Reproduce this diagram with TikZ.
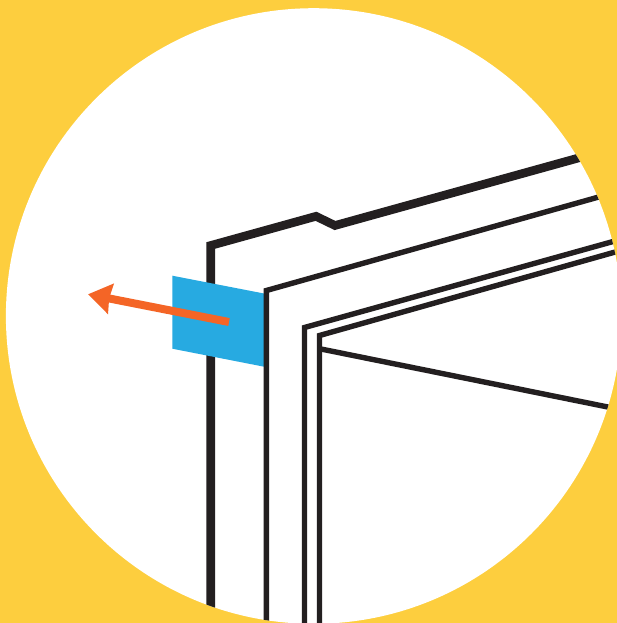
\documentclass[tikz,border=0pt]{standalone}
\usepackage{tikz}
\usetikzlibrary{arrows.meta}
\definecolor{ink}{HTML}{231F20}
\definecolor{sun}{HTML}{FDCE3E}
\definecolor{sky}{HTML}{27AAE1}
\definecolor{flame}{HTML}{F46526}
\tikzset{
  outer/.style={draw=ink, line width=8.6pt, miter limit=10},
  frame/.style={draw=ink, line width=5.4pt, miter limit=10},
  arr/.style={-{Stealth[length=23pt,width=30pt,inset=1.5pt]}, line width=8pt, draw=flame},
}
\begin{document}
\begin{tikzpicture}[x=1pt,y=-1pt]
    \useasboundingbox (0,0) rectangle (617,623);
    \fill[sun] (0,0) rectangle (617,623);
    \fill[white] (313.7,316) circle[radius=307.8];
    \begin{scope}
      \clip (313.7,316) circle[radius=307.8];
      \draw[outer] (210.7,640) -- (210.7,245.5) -- (316,216.3) -- (335,225.5) -- (600,152);
      \fill[sky] (172.3,275.7) -- (264,293.5) -- (264,366.7) -- (172.3,348.7) -- cycle;
      \draw[frame] (266.4,640) -- (266.4,290.5) -- (620,191);
      \draw[frame] (304.5,640) -- (304.5,327.5) -- (640,234);
      \draw[frame] (319.5,640) -- (319.5,335.5) -- (640,245);
      \draw[frame] (321,349) -- (640,413.5);
    \end{scope}
    \coordinate (tail) at (229,322);
    \coordinate (tip) at (88,294.3);
    \draw[arr] (tail) -- (tip);
\end{tikzpicture}
\end{document}
